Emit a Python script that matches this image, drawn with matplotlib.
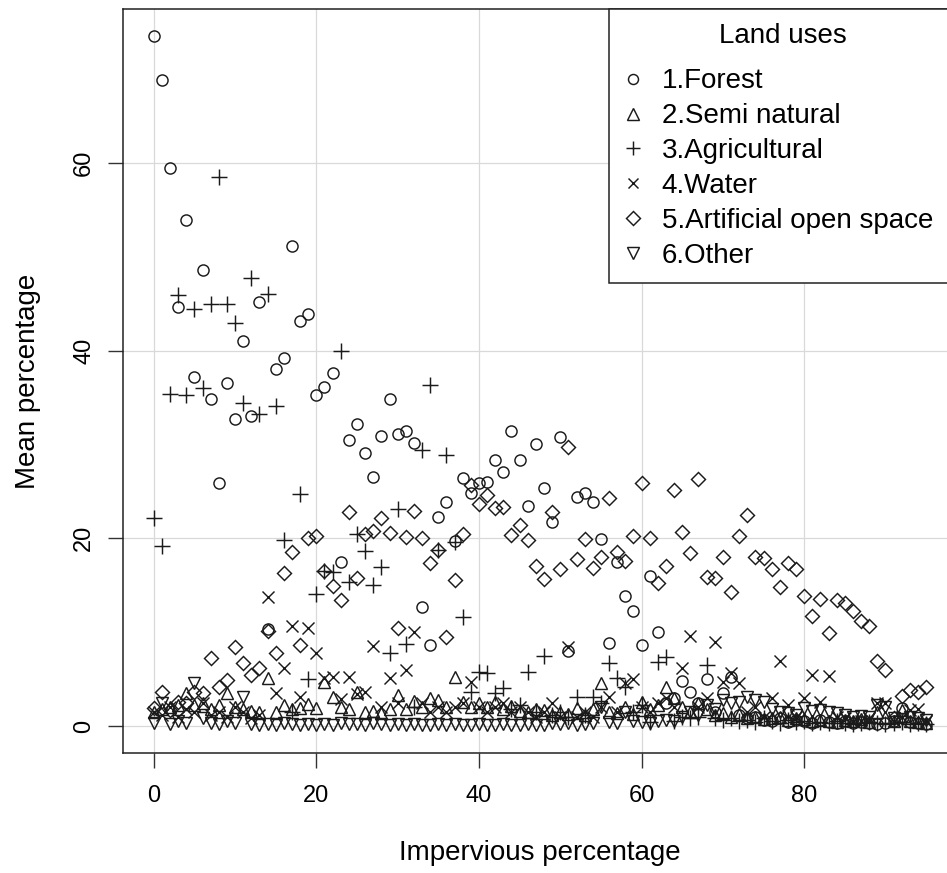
import matplotlib
matplotlib.use("Agg")
import matplotlib.pyplot as plt

plt.rcParams['font.family'] = ['Liberation Sans', 'DejaVu Sans']

impervious = list(range(96))

forest = [
    73.5, 68.8, 59.5, 44.6, 53.9, 37.2, 48.6, 34.8, 25.9, 36.5,
    32.7, 41.0, 33.0, 45.2, 10.3, 38.0, 39.2, 51.1, 43.2, 43.9,
    35.3, 36.1, 37.6, 17.5, 30.5, 32.2, 29.1, 26.5, 30.9, 34.8,
    31.1, 31.4, 30.2, 12.7, 8.6, 22.3, 23.9, 19.7, 26.4, 24.8,
    25.9, 26.0, 28.3, 27.1, 31.4, 28.3, 23.4, 30.1, 25.4, 21.7,
    30.8, 8.0, 24.4, 24.8, 23.9, 19.9, 8.8, 17.5, 13.8, 12.2,
    8.6, 16.0, 10.0, 2.5, 3.0, 4.8, 3.6, 2.4, 5.0, 1.5,
    3.5, 5.2, 1.2, 0.8, 1.0, 0.6, 0.5, 0.8, 0.4, 0.6,
    0.5, 0.3, 0.6, 0.4, 0.3, 0.5, 0.3, 0.4, 0.3, 0.2,
    0.3, 0.5, 1.9, 0.4, 0.3, 0.2]

semi_natural = [
    1.5, 1.8, 2.0, 2.2, 3.5, 2.2, 2.5, 1.8, 2.2, 3.5,
    2.0, 1.8, 1.6, 1.5, 5.1, 1.5, 2.2, 1.8, 1.9, 2.3,
    1.9, 4.7, 3.1, 2.0, 1.8, 3.6, 1.5, 1.6, 1.4, 1.8,
    3.3, 1.8, 2.7, 2.0, 3.0, 2.8, 2.0, 5.2, 2.6, 2.0,
    2.4, 2.0, 2.6, 1.8, 2.1, 1.6, 1.5, 1.8, 1.7, 1.2,
    1.5, 1.3, 1.9, 1.2, 1.8, 4.6, 1.5, 1.4, 2.0, 1.3,
    2.6, 1.8, 2.2, 4.2, 3.0, 2.0, 1.5, 2.5, 1.8, 1.2,
    1.4, 1.0, 1.3, 0.8, 1.0, 0.7, 0.8, 1.0, 0.6, 0.8,
    0.7, 0.5, 0.6, 0.5, 0.4, 0.6, 0.5, 0.7, 0.4, 1.5,
    1.0, 0.5, 1.7, 0.5, 0.4, 0.3]

agricultural = [
    22.2, 19.2, 35.4, 45.9, 35.3, 44.4, 36.0, 45.0, 58.5, 45.0,
    42.9, 34.4, 47.7, 33.2, 46.0, 34.1, 19.8, 1.5, 24.7, 5.0,
    14.1, 16.5, 16.4, 40.0, 15.3, 20.5, 18.6, 15.0, 16.9, 7.8,
    23.1, 8.7, 2.0, 29.4, 36.3, 18.8, 28.9, 19.6, 11.6, 3.6,
    5.8, 5.6, 3.5, 4.0, 1.8, 2.2, 5.8, 1.5, 7.5, 1.2,
    1.5, 1.0, 3.1, 1.2, 3.1, 2.5, 6.7, 5.1, 4.2, 1.5,
    2.2, 0.4, 6.8, 7.3, 0.5, 1.0, 0.8, 1.0, 6.5, 0.8,
    0.6, 0.8, 0.5, 0.6, 0.4, 0.8, 0.5, 0.3, 0.6, 0.4,
    0.5, 0.3, 0.4, 0.3, 0.5, 0.3, 0.2, 0.3, 0.4, 0.3,
    0.2, 0.3, 0.4, 0.2, 0.3, 0.2]

water = [
    1.5, 1.2, 2.0, 1.0, 1.8, 1.5, 2.5, 1.2, 1.5, 1.0,
    2.0, 1.5, 0.8, 1.2, 13.7, 3.5, 6.2, 10.6, 3.1, 10.4,
    7.8, 5.1, 5.2, 2.9, 5.2, 3.4, 3.6, 8.5, 2.0, 5.1,
    2.5, 6.0, 10.0, 2.5, 1.5, 2.0, 1.5, 2.0, 2.5, 4.7,
    2.0, 1.5, 2.0, 2.5, 1.5, 2.0, 1.5, 1.0, 1.5, 2.5,
    1.0, 8.4, 1.0, 1.5, 1.0, 2.0, 3.1, 1.5, 4.6, 5.0,
    2.0, 1.5, 2.5, 3.0, 2.0, 6.2, 9.6, 2.0, 3.0, 9.0,
    4.7, 5.6, 4.6, 1.5, 2.0, 1.0, 3.0, 6.9, 2.2, 1.0,
    3.0, 5.4, 2.6, 5.3, 1.0, 0.8, 0.5, 0.5, 0.8, 2.4,
    2.4, 0.5, 1.0, 1.7, 1.8, 0.5]

artificial = [
    1.9, 3.6, 1.7, 2.6, 2.4, 3.6, 3.5, 7.2, 4.2, 4.9,
    8.4, 6.7, 5.4, 6.2, 10.1, 7.8, 16.3, 18.5, 8.6, 20.0,
    20.2, 16.5, 14.9, 13.4, 22.8, 15.8, 20.5, 20.8, 22.2, 20.6,
    10.4, 20.1, 22.9, 20.0, 17.4, 18.8, 9.5, 15.6, 20.5, 25.7,
    23.7, 24.6, 23.2, 23.3, 20.3, 21.4, 19.8, 17.0, 15.7, 22.8,
    16.7, 29.7, 17.8, 19.9, 16.8, 18.0, 24.3, 18.5, 17.6, 20.2,
    25.9, 20.0, 15.2, 17.0, 25.1, 20.7, 18.4, 26.3, 15.9, 15.8,
    18.0, 14.3, 20.2, 22.5, 18.0, 17.9, 16.7, 14.8, 17.4, 16.7,
    13.8, 11.7, 13.5, 9.9, 13.4, 13.1, 12.3, 11.2, 10.7, 6.9,
    6.0, 0.8, 3.2, 3.8, 3.6, 4.2]

other = [
    0.3, 2.4, 0.2, 0.5, 0.3, 4.6, 0.8, 0.3, 0.2, 0.5,
    0.3, 3.1, 0.2, 0.1, 0.2, 0.1, 0.3, 0.2, 0.1, 0.2,
    0.1, 0.2, 0.1, 0.3, 0.2, 0.2, 0.1, 0.3, 0.2, 0.1,
    0.2, 0.1, 0.2, 0.1, 0.1, 0.2, 0.1, 0.2, 0.1, 0.1,
    0.2, 0.1, 0.1, 0.2, 0.1, 0.1, 0.2, 0.1, 0.1, 0.3,
    0.2, 0.3, 0.1, 0.2, 0.3, 2.0, 0.4, 0.3, 1.5, 0.5,
    0.4, 0.3, 0.5, 0.6, 0.5, 1.0, 1.5, 1.2, 2.2, 1.8,
    2.8, 2.4, 2.6, 3.1, 2.8, 2.6, 1.8, 1.5, 1.4, 1.2,
    1.9, 1.6, 1.7, 1.5, 1.4, 1.2, 1.0, 1.1, 1.0, 2.2,
    2.0, 0.8, 0.7, 1.0, 0.9, 0.6]

labels = ["1.Forest", "2.Semi natural", "3.Agricultural", "4.Water",
          "5.Artificial open space", "6.Other"]

W, H = 947, 873
fig = plt.figure(figsize=(W / 100, H / 100), dpi=100)
ax = fig.add_axes([123 / W, (H - 753) / H, (957 - 123) / W, (753 - 9) / H])

ec = '#1a1a1a'
styles = [
    dict(marker='o', ms=8.0),
    dict(marker='^', ms=9.0),
    dict(marker='+', ms=11.0),
    dict(marker='x', ms=8.5),
    dict(marker='D', ms=7.6),
    dict(marker='v', ms=9.0),
]
series = [forest, semi_natural, agricultural, water, artificial, other]
handles = []
for vals, st, lab in zip(series, styles, labels):
    h, = ax.plot(impervious, vals, linestyle='none', marker=st['marker'],
                 ms=st['ms'], mfc='none', mec=ec, mew=1.05, label=lab,
                 zorder=3)
    handles.append(h)

ax.set_xlim(-3.78, 98.8)
ax.set_ylim(-2.88, 76.4)
ax.set_xticks([0, 20, 40, 60, 80])
ax.set_yticks([0, 20, 40, 60])
ax.grid(True, color='#d9d9d9', linewidth=0.9, zorder=0)
ax.set_axisbelow(True)
for s in ax.spines.values():
    s.set_linewidth(1.1)
    s.set_color('#222222')
ax.tick_params(axis='both', length=11, width=1.0, color='#333333',
               labelsize=17, direction='out')
ax.tick_params(axis='x', pad=12)
ax.tick_params(axis='y', pad=9)
for t in ax.get_yticklabels():
    t.set_rotation(90)
    t.set_va('center')

ax.set_xlabel("Impervious percentage", fontsize=20)
ax.xaxis.label.set_va('center')
ax.xaxis.set_label_coords(0.5, (753 - 853) / 744)
ax.set_ylabel("Mean percentage", fontsize=20)
ax.yaxis.label.set_va('center')
ax.yaxis.set_label_coords((28 - 123) / 834, 0.5)

leg_left = (609 - 123) / 834
leg = ax.legend(handles=handles, title="Land uses", loc='upper left',
                bbox_to_anchor=(leg_left, 0.0, 1.0 - leg_left, 1.0),
                mode='expand',
                fontsize=20, title_fontsize=20, frameon=True, fancybox=False,
                edgecolor='#222222', borderaxespad=0, borderpad=0.5,
                handlelength=0.7, handletextpad=0.69, labelspacing=0.32,
                markerscale=0.9, framealpha=1)
leg.get_frame().set_linewidth(1.1)
leg._legend_box.sep = 14

fig.savefig("out.png", dpi=100)
